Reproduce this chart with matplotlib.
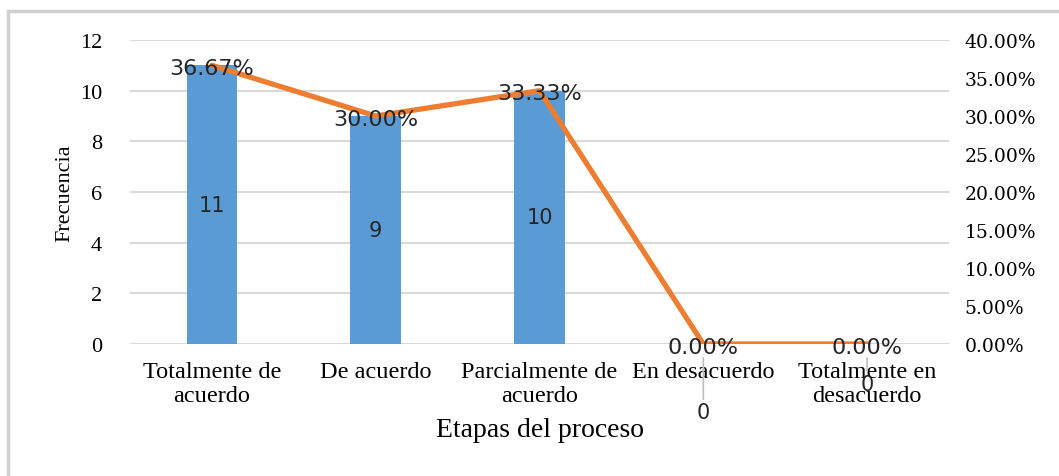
import matplotlib
matplotlib.use('Agg')
import matplotlib.pyplot as plt
from matplotlib.patches import Rectangle

categorias = ['Totalmente de\nacuerdo', 'De acuerdo', 'Parcialmente de\nacuerdo',
              'En desacuerdo', 'Totalmente en\ndesacuerdo']
frecuencia = [11, 9, 10, 0, 0]
porcentaje = [36.67, 30.00, 33.33, 0.00, 0.00]
# offsets (points) of the "0" labels for the empty bars, as placed in the original
cero_offset = [None, None, None, -49, -29]

azul = '#5B9BD5'
naranja = '#ED7D31'
gris = '#d9d9d9'

plt.rcParams['font.family'] = ['Liberation Serif', 'DejaVu Serif']

fig = plt.figure(figsize=(10.59, 4.77), dpi=100)
fig.patches.append(Rectangle((8 / 1059, -0.1), 1.2, 1 - 12 / 477 + 0.1,
                             transform=fig.transFigure, fill=False,
                             edgecolor='#d0d0d0', linewidth=2.5))
ax = fig.add_axes([130 / 1059, 1 - 345 / 477, 819 / 1059, 304 / 477])
ax2 = ax.twinx()

x = list(range(len(categorias)))
ax.bar(x, frecuencia, width=0.31, color=azul, zorder=2)
ax.set_ylim(0, 12)
ax.set_yticks(range(0, 13, 2))
ax.set_xlim(-0.5, len(categorias) - 0.5)
ax.set_xticks(x)
ax.set_xticklabels(categorias, fontsize=17.5, linespacing=1.2)
ax.tick_params(axis='x', length=0, pad=12)
ax.tick_params(axis='y', length=0, labelsize=16, pad=20)
ax.grid(axis='y', color=gris, linewidth=1.5, zorder=0)
ax.set_axisbelow(True)
for s in ax.spines.values():
    s.set_visible(False)
for s in ax2.spines.values():
    s.set_visible(False)
ax.set_ylabel('Frecuencia', fontsize=16, labelpad=4)
ax.set_xlabel('Etapas del proceso', fontsize=20, labelpad=8)

for i, v in enumerate(frecuencia):
    if v > 0:
        ax.text(i, v / 2, str(v), ha='center', va='center', fontsize=15,
                family='DejaVu Sans', color='#262626', zorder=4)
    else:
        ax.annotate(str(v), xy=(i, 0), xytext=(0, cero_offset[i]),
                    textcoords='offset points', ha='center', va='center',
                    fontsize=15, family='DejaVu Sans', color='#262626',
                    arrowprops=dict(arrowstyle='-', color='#bfbfbf', lw=1.2,
                                    shrinkA=0, shrinkB=10),
                    annotation_clip=False)

ax2.plot(x, [p / 100 for p in porcentaje], color=naranja, linewidth=3.8,
         solid_capstyle='round', zorder=3)
ax2.set_ylim(0, 0.40)
ax2.set_yticks([i * 0.05 for i in range(9)])
ax2.set_yticklabels(['%.2f%%' % (t * 100) for t in ax2.get_yticks()],
                    family='DejaVu Serif', fontsize=13.5)
ax2.tick_params(axis='y', length=0, pad=11)
for i, p in enumerate(porcentaje):
    ax2.annotate('%.2f%%' % p, xy=(i, p / 100), xytext=(0, -2),
                 textcoords='offset points', ha='center', va='center',
                 fontsize=16, family='DejaVu Sans', color='#262626', zorder=5)

fig.savefig('out.png', dpi=100)
